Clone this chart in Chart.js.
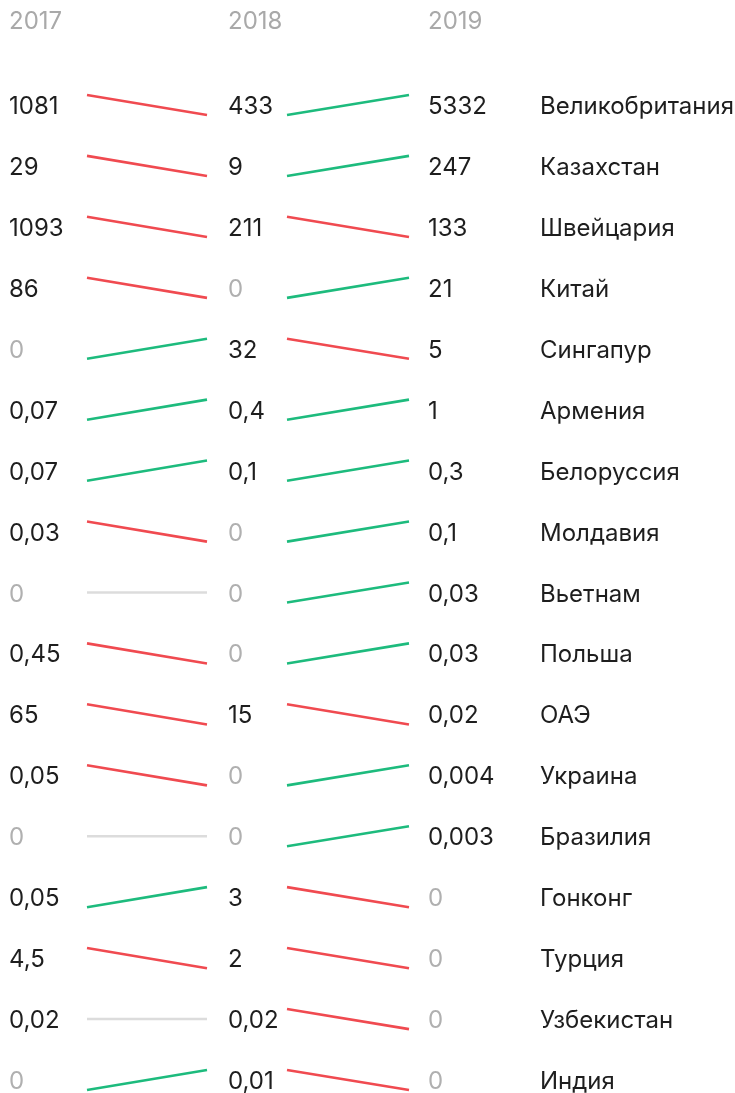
<!DOCTYPE html>
<html>
<head>
<meta charset="utf-8">
<script src="https://cdn.jsdelivr.net/npm/chart.js@4/dist/chart.umd.min.js"></script>
<style>
  html, body { margin: 0; padding: 0; background: #fff; }
  #wrap { width: 735px; height: 1093px; position: relative; }
</style>
</head>
<body>
<div id="wrap"><canvas id="grafico"></canvas></div>
<script>
const anos = ["2017", "2018", "2019"];
const paises = ["Великобритания", "Казахстан", "Швейцария", "Китай", "Сингапур", "Армения", "Белоруссия", "Молдавия", "Вьетнам", "Польша", "ОАЭ", "Украина", "Бразилия", "Гонконг", "Турция", "Узбекистан", "Индия"];
const v2017 = [1081, 29, 1093, 86, 0, 0.07, 0.07, 0.03, 0, 0.45, 65, 0.05, 0, 0.05, 4.5, 0.02, 0];
const v2018 = [433, 9, 211, 0, 32, 0.4, 0.1, 0, 0, 0, 15, 0, 0, 3, 2, 0.02, 0.01];
const v2019 = [5332, 247, 133, 21, 5, 1, 0.3, 0.1, 0.03, 0.03, 0.02, 0.004, 0.003, 0, 0, 0, 0];

// layout (pixels on the x scale, rows on the y scale)
const colTexto = [9, 228, 428];
const colPais = 540;
const segmentos = [[87, 207], [287, 409]];
const inclinacao = 0.165; // half height of a slope line, in rows
const linhaAnos = -1.39;

const VERMELHO = "#f04a50";
const VERDE = "#1dbb7d";
const CINZA = "#dcdcdc";

const colunas = [v2017, v2018, v2019];

function fmt(v) {
  return String(v).replace(".", ",");
}

const datasets = [];
paises.forEach((p, i) => {
  for (let s = 0; s < 2; s++) {
    const a = colunas[s][i];
    const b = colunas[s + 1][i];
    const d = b > a ? 1 : b < a ? -1 : 0;
    datasets.push({
      data: [
        { x: segmentos[s][0], y: i + d * inclinacao },
        { x: segmentos[s][1], y: i - d * inclinacao }
      ],
      borderColor: d > 0 ? VERDE : d < 0 ? VERMELHO : CINZA,
      borderWidth: 2.6,
      pointRadius: 0,
      showLine: true,
      fill: false
    });
  }
});

const textos = {
  id: "textos",
  afterDraw(chart) {
    const { ctx, scales } = chart;
    const x = scales.x, y = scales.y;
    ctx.save();
    ctx.font = "24px Inter, 'Noto Sans', sans-serif";
    ctx.textAlign = "left";
    ctx.textBaseline = "alphabetic";
    anos.forEach((a, k) => {
      ctx.fillStyle = "#a9a9a9";
      ctx.fillText(a, x.getPixelForValue(colTexto[k]), y.getPixelForValue(linhaAnos) + 9);
    });
    paises.forEach((p, i) => {
      const py = y.getPixelForValue(i) + 9;
      colunas.forEach((col, k) => {
        ctx.fillStyle = col[i] === 0 ? "#b0b0b0" : "#1e1e1e";
        ctx.fillText(fmt(col[i]), x.getPixelForValue(colTexto[k]), py);
      });
      ctx.fillStyle = "#1e1e1e";
      ctx.fillText(p, x.getPixelForValue(colPais), py);
    });
    ctx.restore();
  }
};

// row 0 at 105px, row 16 at 1080px
const R = 16 * 1093 / 975;
const yMin = -105 * R / 1093;

new Chart(document.getElementById("grafico").getContext("2d"), {
  type: "scatter",
  data: { datasets },
  options: {
    responsive: true,
    maintainAspectRatio: false,
    animation: false,
    layout: { padding: 0 },
    plugins: { legend: { display: false }, tooltip: { enabled: false } },
    scales: {
      x: { type: "linear", min: 0, max: 735, display: false },
      y: { type: "linear", min: yMin, max: yMin + R, reverse: true, display: false }
    }
  },
  plugins: [textos]
});
</script>
</body>
</html>
